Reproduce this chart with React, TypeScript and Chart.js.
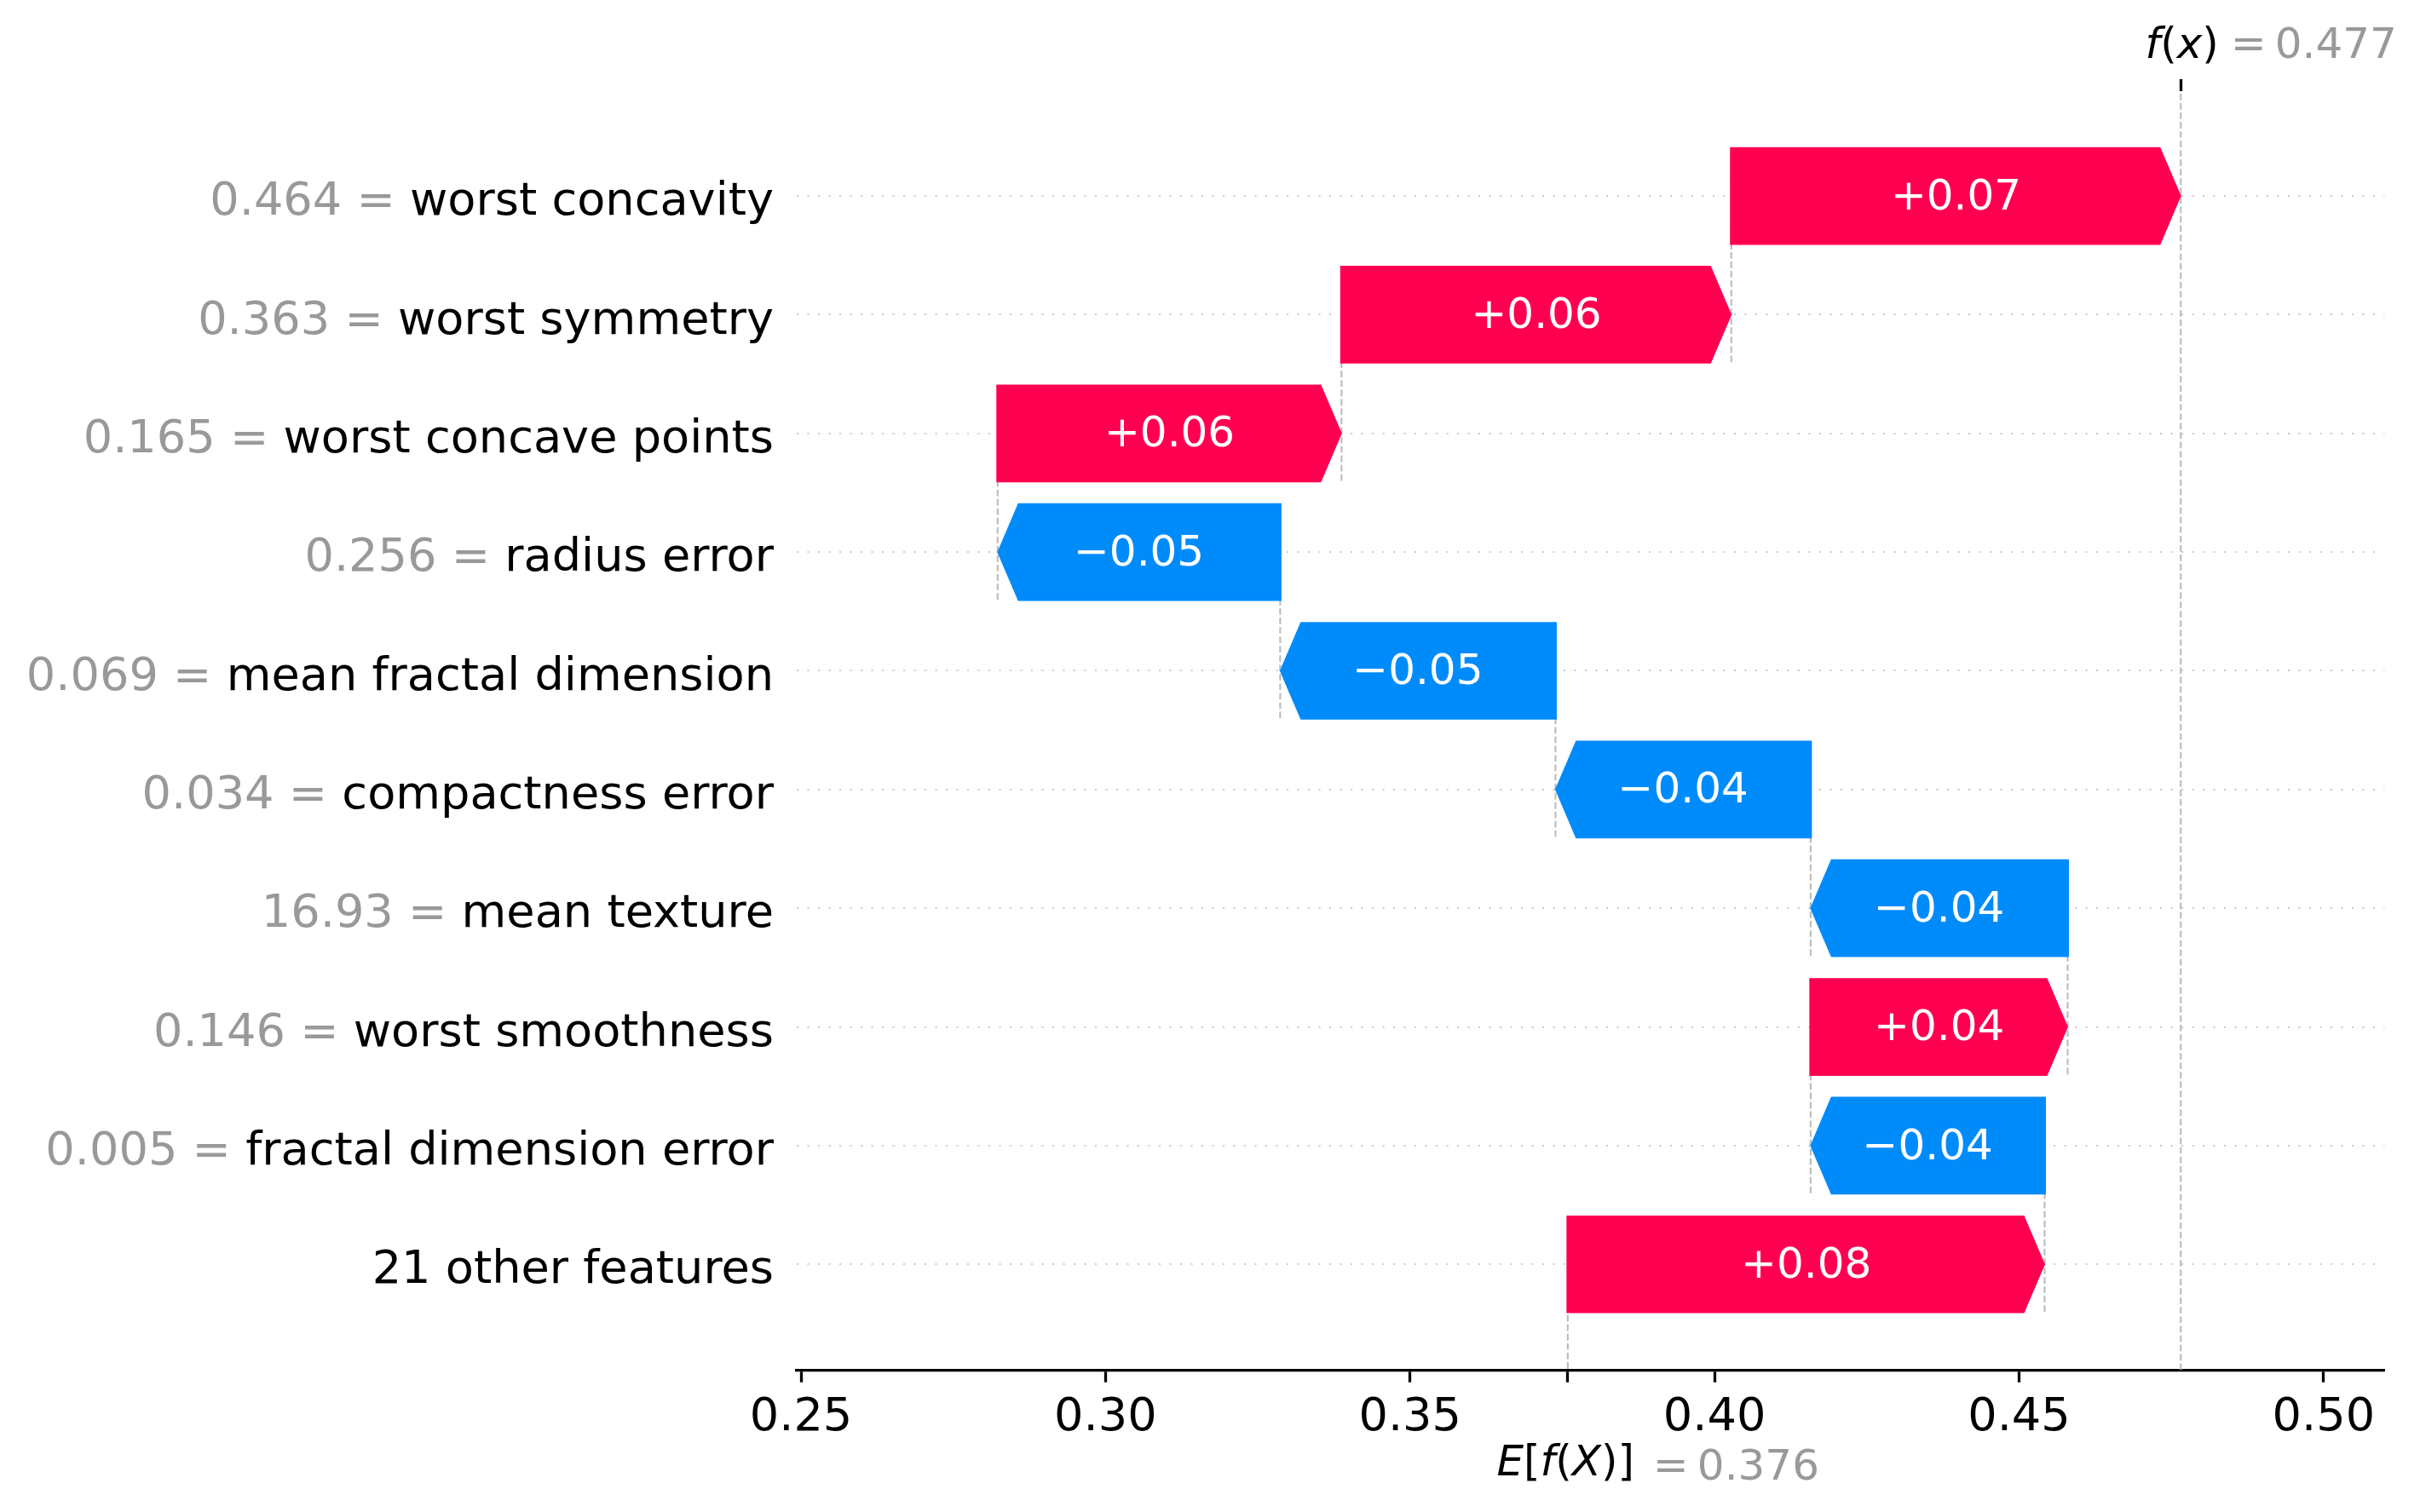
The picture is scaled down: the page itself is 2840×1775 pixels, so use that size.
import React, { useEffect, useRef } from "react";
import { Chart, registerables } from "chart.js";

Chart.register(...registerables);

// ---------------- data (top row first) ----------------
const featureNames = [
  "worst concavity",
  "worst symmetry",
  "worst concave points",
  "radius error",
  "mean fractal dimension",
  "compactness error",
  "mean texture",
  "worst smoothness",
  "fractal dimension error",
  "21 other features",
];
const featureValues = ["0.464", "0.363", "0.165", "0.256", "0.069", "0.034", "16.93", "0.146", "0.005", ""];
const shapValues = [0.0738, 0.064, 0.05646, -0.04639, -0.0452, -0.0419, -0.0422, 0.0422, -0.03842, 0.0783];
const baseValue = 0.3759;
const xTickValues = [0.25, 0.3, 0.35, 0.4, 0.45, 0.5];
const xRange = [0.2493, 0.51];
const yRange = [-0.89, 9.881];

// ---------------- style ----------------
const RED = "#ff0051";
const BLUE = "#008bfb";
const GRAY_TXT = "#999999";
const FONT = "'DejaVu Sans', 'Noto Sans', sans-serif";
const PT = 300 / 72; // px per point
const W = 2840;
const H = 1775;

export default function App() {
  const ref = useRef<HTMLCanvasElement | null>(null);

  useEffect(() => {
    document.body.style.margin = "0";
    const canvas = ref.current;
    if (!canvas) return;
    const n = featureNames.length;
    const starts: number[] = new Array(n);
    const ends: number[] = new Array(n);
    let acc = baseValue;
    for (let k = n - 1; k >= 0; k--) {
      starts[k] = acc;
      acc += shapValues[k];
      ends[k] = acc;
    }
    const fx = acc;
    const rowVal = (k: number) => n - 1 - k;

    const labelFont = 13 * PT;
    const barFont = 12 * PT;
    const yPad = 27;
    const yLabelOffset = 8;

    const drawSegs = (ctx: CanvasRenderingContext2D, segs: { t: string; i?: boolean; c: string }[], x: number, y: number, size: number) => {
      let cx = x;
      for (const s of segs) {
        ctx.font = `${s.i ? "italic " : ""}${size}px ${FONT}`;
        ctx.fillStyle = s.c;
        ctx.fillText(s.t, cx, y);
        cx += ctx.measureText(s.t).width;
      }
    };

    const plugin = {
      id: "waterfall",
      beforeDatasetsDraw(chart: any) {
        const { ctx, chartArea } = chart;
        const xs = chart.scales.x;
        const ys = chart.scales.y;
        ctx.save();
        ctx.strokeStyle = "#bbbbbb";
        ctx.lineWidth = 0.5 * PT;
        ctx.setLineDash([3.7 * 0.5 * PT, 1.6 * 0.5 * PT]);
        const vline = (x: number, y1: number, y2: number) => {
          ctx.beginPath();
          ctx.moveTo(x, y1);
          ctx.lineTo(x, y2);
          ctx.stroke();
        };
        vline(xs.getPixelForValue(fx), chartArea.bottom, chartArea.top);
        vline(xs.getPixelForValue(baseValue), chartArea.bottom - 1.6, chartArea.bottom - chartArea.height / n);
        for (let k = 0; k < n - 1; k++) {
          const x = xs.getPixelForValue(starts[k]);
          vline(x, ys.getPixelForValue(rowVal(k) - 1.4), ys.getPixelForValue(rowVal(k) + 0.4));
        }
        ctx.restore();
      },
      afterDatasetsDraw(chart: any) {
        const { ctx } = chart;
        const meta = chart.getDatasetMeta(0);
        const headLen = 24.5;
        ctx.save();
        meta.data.forEach((el: any, k: number) => {
          const pos = shapValues[k] >= 0;
          const lo = Math.min(el.x, el.base);
          const hi = Math.max(el.x, el.base);
          const c = el.y;
          const h = el.height / 2;
          ctx.beginPath();
          if (pos) {
            const s = lo - 1.5;
            const e = hi + 0.5;
            ctx.moveTo(s, c - h);
            ctx.lineTo(e - headLen, c - h);
            ctx.lineTo(e, c);
            ctx.lineTo(e - headLen, c + h);
            ctx.lineTo(s, c + h);
          } else {
            const s = hi + 1.5;
            const e = lo - 0.5;
            ctx.moveTo(s, c - h);
            ctx.lineTo(e + headLen, c - h);
            ctx.lineTo(e, c);
            ctx.lineTo(e + headLen, c + h);
            ctx.lineTo(s, c + h);
          }
          ctx.closePath();
          ctx.fillStyle = pos ? RED : BLUE;
          ctx.fill();
          // value text
          const v = shapValues[k];
          const txt = (v >= 0 ? "+" : "\u2212") + Math.abs(v).toFixed(2);
          ctx.font = `${barFont}px ${FONT}`;
          ctx.fillStyle = "#ffffff";
          ctx.textAlign = "center";
          ctx.textBaseline = "alphabetic";
          ctx.fillText(txt, (lo + hi) / 2, c + 15.6);
        });
        ctx.restore();
      },
      afterDraw(chart: any) {
        const { ctx, chartArea } = chart;
        const xs = chart.scales.x;
        const ys = chart.scales.y;
        ctx.save();
        // gray feature values before names
        ctx.font = `${labelFont}px ${FONT}`;
        ctx.textAlign = "right";
        ctx.textBaseline = "middle";
        const labelRight = ys.right - yPad;
        featureNames.forEach((name, k) => {
          if (!featureValues[k]) return;
          ctx.font = `${labelFont}px ${FONT}`;
          const wName = ctx.measureText(name).width;
          ctx.fillStyle = GRAY_TXT;
          ctx.fillText(featureValues[k] + " = ", labelRight - wName, ys.getPixelForValue(rowVal(k)) + yLabelOffset);
        });
        // f(x) label on top
        ctx.textAlign = "left";
        ctx.textBaseline = "alphabetic";
        const pfx = xs.getPixelForValue(fx);
        const topBase = chartArea.top - 38.9;
        drawSegs(ctx, [
          { t: "f", i: true, c: "#000" },
          { t: "(", c: "#000" },
          { t: "x", i: true, c: "#000" },
          { t: ")", c: "#000" },
        ], pfx - 10 * PT, topBase, barFont);
        drawSegs(ctx, [{ t: "=", c: GRAY_TXT }], pfx + 58.5, topBase, barFont);
        drawSegs(ctx, [{ t: fx.toFixed(3), c: GRAY_TXT }], pfx + 110.5, topBase, barFont);
        // E[f(X)] label on bottom
        const pb = xs.getPixelForValue(baseValue);
        const botBase = chartArea.bottom + 124.1;
        drawSegs(ctx, [
          { t: "E", i: true, c: "#000" },
          { t: "[", c: "#000" },
          { t: "f", i: true, c: "#000" },
          { t: "(", c: "#000" },
          { t: "X", i: true, c: "#000" },
          { t: ")", c: "#000" },
          { t: "]", c: "#000" },
        ], pb - 20 * PT, botBase, barFont);
        drawSegs(ctx, [{ t: "=", c: GRAY_TXT }], pb + 100, botBase + PT, barFont);
        drawSegs(ctx, [{ t: baseValue.toFixed(3), c: GRAY_TXT }], pb + 152, botBase + PT, barFont);
        ctx.restore();
      },
    };

    const chart = new Chart(canvas, {
      type: "bar",
      data: {
        datasets: [
          {
            data: featureNames.map((_, k) => ({ x: [starts[k], ends[k]], y: rowVal(k) })) as any,
            backgroundColor: "rgba(0,0,0,0)",
            borderWidth: 0,
            categoryPercentage: 1,
            barPercentage: 0.823,
            xAxisID: "x",
            yAxisID: "y",
          },
        ],
      },
      options: {
        indexAxis: "y",
        animation: false,
        responsive: false,
        maintainAspectRatio: false,
        devicePixelRatio: 1,
        events: [],
        layout: { padding: { left: 0, top: 0, bottom: 0, right: W - 2798.3 } },
        plugins: { legend: { display: false }, tooltip: { enabled: false } },
        scales: {
          x: {
            type: "linear",
            position: "bottom",
            offset: false,
            min: xRange[0],
            max: xRange[1],
            afterBuildTicks: (s: any) => {
              s.ticks = [...xTickValues, baseValue].map((v) => ({ value: v }));
            },
            afterFit: (s: any) => {
              s.height = H - 1608.3;
            },
            ticks: {
              autoSkip: false,
              maxRotation: 0,
              minRotation: 0,
              padding: 10,
              color: "#000",
              font: { family: FONT, size: labelFont },
              callback: (v: any, i: number) => (i < xTickValues.length ? Number(v).toFixed(2) : ""),
            },
            grid: {
              display: true,
              offset: false,
              drawOnChartArea: false,
              drawTicks: true,
              tickLength: 14.4,
              tickWidth: 3.3,
              tickColor: "#000",
            },
            border: { display: true, color: "#000", width: 3.3 },
          },
          x2: {
            type: "linear",
            position: "top",
            offset: false,
            min: xRange[0],
            max: xRange[1],
            afterBuildTicks: (s: any) => {
              s.ticks = [{ value: fx }];
            },
            afterFit: (s: any) => {
              s.height = 107.3;
            },
            ticks: { display: false },
            grid: {
              display: true,
              offset: false,
              drawOnChartArea: false,
              drawTicks: true,
              tickLength: 14.4,
              tickWidth: 3.3,
              tickColor: "#000",
            },
            border: { display: false },
          },
          y: {
            type: "linear",
            position: "left",
            offset: false,
            min: yRange[0],
            max: yRange[1],
            afterBuildTicks: (s: any) => {
              s.ticks = featureNames.map((_, k) => ({ value: rowVal(k) }));
            },
            afterFit: (s: any) => {
              s.width = 935;
            },
            ticks: {
              autoSkip: false,
              padding: yPad,
              labelOffset: yLabelOffset,
              color: "#000",
              font: { family: FONT, size: labelFont },
              callback: (v: any) => featureNames[n - 1 - Number(v)],
            },
            grid: {
              display: true,
              offset: false,
              drawOnChartArea: true,
              drawTicks: false,
              color: "#cccccc",
              lineWidth: 0.5 * PT,
            },
            border: { display: false, dash: [0.5 * PT, 2.5 * PT] },
          },
        } as any,
      },
      plugins: [plugin],
    } as any);

    return () => {
      chart.destroy();
    };
  }, []);

  return (
    <div style={{ position: "absolute", left: 0, top: 0, width: W, height: H, background: "#fff" }}>
      <canvas ref={ref} width={W} height={H} style={{ display: "block", width: W, height: H }} />
    </div>
  );
}
